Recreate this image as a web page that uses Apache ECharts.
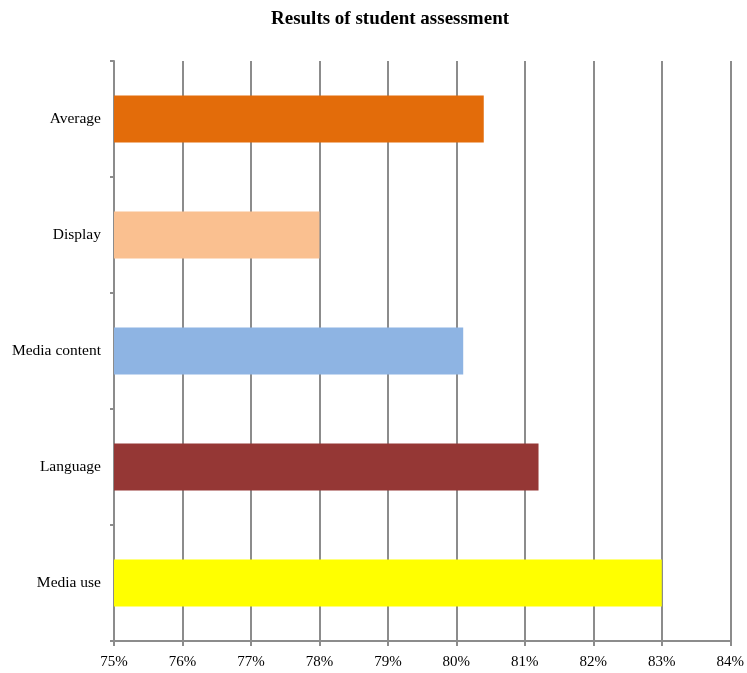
<!DOCTYPE html>
<html>
<head>
<meta charset="utf-8">
<script src="https://cdn.jsdelivr.net/npm/echarts@6/dist/echarts.min.js"></script>
<style>
html,body{margin:0;padding:0;background:#fff;}
#chart{width:747px;height:673px;}
</style>
</head>
<body>
<div id="chart"></div>
<script>
// data, bottom to top
var categories = ['Media use', 'Language', 'Media content', 'Display', 'Average'];
var scores = [83.0, 81.2, 80.1, 78.0, 80.4];
var barColors = ['#FFFF00', '#953735', '#8EB4E3', '#FAC090', '#E36C0A'];
var xTicks = [75, 76, 77, 78, 79, 80, 81, 82, 83, 84];

var myChart = echarts.init(document.getElementById('chart'));

var seriesData = [];
for (var i = 0; i < scores.length; i++) {
	seriesData.push({ value: scores[i], itemStyle: { color: barColors[i] } });
}

var option = {
	backgroundColor: '#fff',
	animation: false,
	title: {
		text: 'Results of student assessment',
		left: 385,
		top: 5,
		textAlign: 'center',
		textStyle: { fontFamily: 'Liberation Serif', fontWeight: 'bold', fontSize: 19, color: '#000' }
	},
	grid: { left: 114, right: 15, top: 61, bottom: 32 },
	xAxis: {
		type: 'value',
		min: xTicks[0],
		max: xTicks[xTicks.length - 1],
		interval: 1,
		axisLine: { show: true, lineStyle: { color: '#8c8c8c', width: 2 } },
		axisTick: { show: true, length: 5, lineStyle: { color: '#8c8c8c', width: 2 } },
		splitLine: { show: true, lineStyle: { color: '#8c8c8c', width: 2 } },
		axisLabel: {
			margin: 14,
			fontFamily: 'Liberation Serif', fontSize: 15, color: '#000',
			formatter: function (v) { return v + '%'; }
		}
	},
	yAxis: {
		type: 'category',
		data: categories,
		axisLine: { show: true, lineStyle: { color: '#8c8c8c', width: 2 } },
		axisTick: { show: true, length: 4, lineStyle: { color: '#8c8c8c', width: 2 } },
		axisLabel: { margin: 13, fontFamily: 'Liberation Serif', fontSize: 15.5, color: '#000' }
	},
	series: [{
		type: 'bar',
		data: seriesData,
		barWidth: 47
	}]
};
myChart.setOption(option);
</script>
</body>
</html>
